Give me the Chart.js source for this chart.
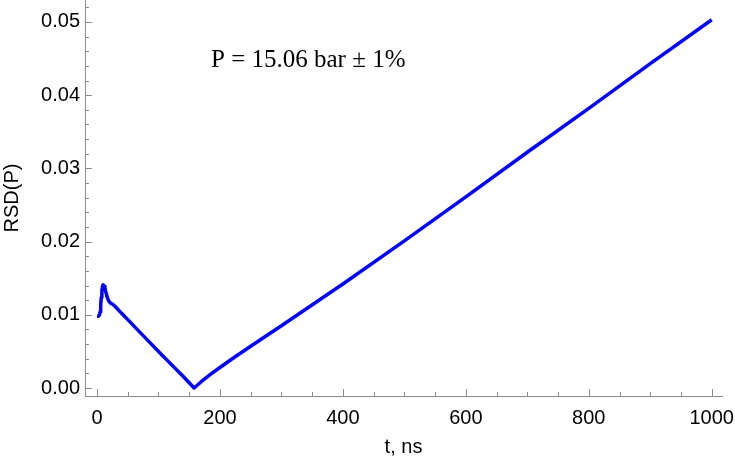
<!DOCTYPE html>
<html>
<head>
<meta charset="utf-8">
<script src="https://cdn.jsdelivr.net/npm/chart.js@4.4.1/dist/chart.umd.min.js"></script>
<style>
    html, body { margin: 0; padding: 0; background: #fff; }
    #chartRsd { display: block; }
</style>
</head>
<body>
<canvas id="chartRsd" width="735" height="467"></canvas>
<script>
// Dados
const tempoNs = [0, 2, 4, 5, 6, 7, 8, 9, 10, 11, 12, 13, 15, 17, 19, 22, 26, 30, 40, 54, 70, 85, 100, 120, 140, 158,
    170, 185, 200, 220, 250, 300, 400, 500, 600, 700, 800, 900, 1000];
const rsdValores = [0.0098, 0.0098, 0.0100, 0.0104, 0.0113, 0.0124, 0.0133, 0.0139, 0.0141, 0.0141, 0.0139, 0.0136,
    0.0129, 0.0123, 0.0119, 0.0116, 0.0114, 0.0111, 0.0102, 0.0090, 0.0076, 0.0063, 0.0050, 0.0033, 0.0016, 0.0000,
    0.0009, 0.0019, 0.0028, 0.0040, 0.0057, 0.0085, 0.0142, 0.0201, 0.0261, 0.0322, 0.0382, 0.0443, 0.0503];
const xTicks = [0, 200, 400, 600, 800, 1000];
const yTicks = [0, 0.01, 0.02, 0.03, 0.04, 0.05];
const xMinorStep = 50;
const yMinorStep = 0.002;
const anotacao = 'P = 15.06 bar \u00b1 1%';

const corEixo = '#8c8c8c';
const fonteSans = '"Liberation Sans", Arial, sans-serif';

document.addEventListener('DOMContentLoaded', () => {
    renderChartRsd();
});

// Marcas de escala para dentro (maiores e menores), estilo Mathematica
const ticksInternos = {
    id: 'ticksInternos',
    afterDraw(chart) {
        const ctx = chart.ctx;
        const x = chart.scales.x;
        const y = chart.scales.y;
        ctx.save();
        ctx.strokeStyle = corEixo;
        ctx.lineWidth = 1;
        ctx.beginPath();
        for (let v = 0; v <= x.max; v += xMinorStep) {
            const px = Math.round(x.getPixelForValue(v)) + 0.5;
            const len = xTicks.includes(v) ? 7 : 4;
            ctx.moveTo(px, y.bottom);
            ctx.lineTo(px, y.bottom - len);
        }
        for (let i = 0; i * yMinorStep <= y.max; i++) {
            const v = i * yMinorStep;
            const py = Math.round(y.getPixelForValue(v)) + 0.5;
            const len = i % 5 === 0 ? 7 : 4;
            ctx.moveTo(x.left, py);
            ctx.lineTo(x.left + len, py);
        }
        ctx.stroke();

        // Texto da anotação
        ctx.fillStyle = '#000';
        ctx.font = '25px "Liberation Serif", "Times New Roman", serif';
        ctx.textBaseline = 'alphabetic';
        ctx.fillText(anotacao, 211, 67);
        ctx.restore();
    }
};

// Tira o espaço extra que o Chart.js reserva para os rótulos nas pontas
function semPadding(scale) {
    scale.paddingTop = 0;
    scale.paddingBottom = 0;
    scale.paddingLeft = 0;
    scale.paddingRight = 0;
}

function renderChartRsd() {
    const ctx = document.getElementById('chartRsd').getContext('2d');
    const pontos = tempoNs.map((t, i) => ({ x: t, y: rsdValores[i] }));

    new Chart(ctx, {
        type: 'line',
        data: {
            datasets: [{
                label: 'RSD(P)',
                data: pontos,
                borderColor: '#0000ff',
                borderWidth: 3.5,
                pointRadius: 0,
                fill: false,
                tension: 0,
                borderJoinStyle: 'round'
            }]
        },
        options: {
            responsive: false,
            animation: false,
            layout: { padding: { top: 0, right: 13, left: 0, bottom: 0 } },
            plugins: {
                legend: { display: false },
                tooltip: { enabled: false }
            },
            scales: {
                x: {
                    type: 'linear',
                    min: -19.5,
                    max: 1016.7,
                    afterBuildTicks: (scale) => { scale.ticks = xTicks.map(v => ({ value: v })); },
                    afterFit: (scale) => { scale.height = 71; semPadding(scale); },
                    grid: { display: false, drawTicks: false },
                    border: { display: true, color: corEixo, width: 1 },
                    ticks: {
                        color: '#000',
                        padding: 10,
                        maxRotation: 0,
                        callback: (v) => String(v),
                        font: { family: fonteSans, size: 20 }
                    },
                    title: {
                        display: true,
                        text: 't, ns',
                        color: '#000',
                        padding: { top: 0, bottom: 8 },
                        font: { family: fonteSans, size: 20 }
                    }
                },
                y: {
                    type: 'linear',
                    min: -0.00109,
                    max: 0.053,
                    afterBuildTicks: (scale) => { scale.ticks = yTicks.map(v => ({ value: v })); },
                    afterFit: (scale) => { scale.width = 85; semPadding(scale); },
                    grid: { display: false, drawTicks: false },
                    border: { display: true, color: corEixo, width: 1 },
                    ticks: {
                        color: '#000',
                        padding: 5,
                        callback: (v) => v.toFixed(2),
                        font: { family: fonteSans, size: 20 }
                    },
                    title: {
                        display: true,
                        text: 'RSD(P)',
                        color: '#000',
                        padding: { top: 0, bottom: 0 },
                        font: { family: fonteSans, size: 20 }
                    }
                }
            }
        },
        plugins: [ticksInternos]
    });
}
</script>
</body>
</html>
